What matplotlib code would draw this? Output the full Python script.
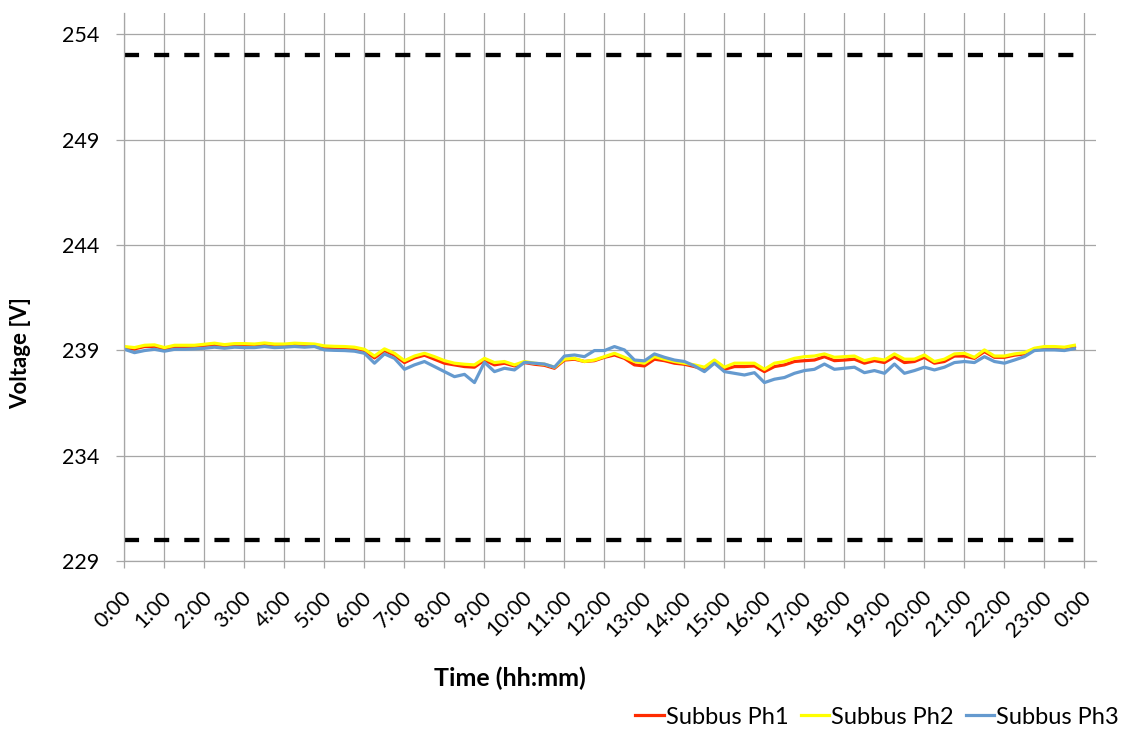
import matplotlib
matplotlib.use("Agg")
import matplotlib.pyplot as plt
import matplotlib.transforms as mtransforms
import numpy as np

plt.rcParams['font.family'] = ['Lato', 'DejaVu Sans']

# Quarter-hour samples over one day (hours since midnight)
sample_hours = np.arange(96) * 0.25

# Subbus phase voltages [V], one value per 15 minutes
ph1 = [239.11, 239.07, 239.18, 239.19, 239.07, 239.18, 239.18, 239.18,
       239.23, 239.27, 239.21, 239.26, 239.26, 239.24, 239.29, 239.24,
       239.24, 239.27, 239.26, 239.24, 239.15, 239.13, 239.11, 239.08,
       238.99, 238.64, 238.99, 238.77, 238.42, 238.64, 238.77, 238.58,
       238.39, 238.31, 238.23, 238.20, 238.54, 238.31, 238.39, 238.26,
       238.42, 238.34, 238.29, 238.15, 238.54, 238.58, 238.47, 238.51,
       238.67, 238.78, 238.62, 238.31, 238.26, 238.58, 238.51, 238.39,
       238.34, 238.23, 238.10, 238.47, 238.10, 238.23, 238.23, 238.26,
       237.99, 238.23, 238.31, 238.47, 238.51, 238.54, 238.70, 238.51,
       238.54, 238.58, 238.39, 238.51, 238.42, 238.70, 238.42, 238.47,
       238.67, 238.39, 238.47, 238.73, 238.73, 238.62, 238.94, 238.67,
       238.67, 238.77, 238.83, 239.07, 239.13, 239.13, 239.10, 239.18]

ph2 = [239.18, 239.13, 239.24, 239.26, 239.13, 239.24, 239.24, 239.24,
       239.29, 239.34, 239.27, 239.32, 239.32, 239.30, 239.35, 239.30,
       239.30, 239.34, 239.32, 239.30, 239.21, 239.19, 239.18, 239.15,
       239.05, 238.73, 239.07, 238.86, 238.51, 238.73, 238.86, 238.70,
       238.51, 238.39, 238.34, 238.31, 238.62, 238.42, 238.47, 238.31,
       238.47, 238.39, 238.34, 238.20, 238.58, 238.62, 238.47, 238.54,
       238.70, 238.86, 238.67, 238.47, 238.39, 238.70, 238.58, 238.47,
       238.39, 238.31, 238.20, 238.54, 238.20, 238.39, 238.39, 238.39,
       238.10, 238.39, 238.47, 238.62, 238.70, 238.73, 238.83, 238.67,
       238.70, 238.73, 238.51, 238.62, 238.54, 238.83, 238.58, 238.58,
       238.78, 238.47, 238.58, 238.83, 238.86, 238.67, 239.02, 238.73,
       238.73, 238.83, 238.89, 239.10, 239.18, 239.18, 239.15, 239.24]

ph3 = [239.05, 238.89, 238.99, 239.05, 238.96, 239.05, 239.05, 239.07,
       239.10, 239.15, 239.10, 239.15, 239.13, 239.13, 239.18, 239.13,
       239.15, 239.18, 239.15, 239.18, 239.02, 239.00, 238.99, 238.96,
       238.86, 238.39, 238.83, 238.62, 238.10, 238.31, 238.47, 238.23,
       237.99, 237.75, 237.86, 237.47, 238.43, 237.99, 238.15, 238.07,
       238.43, 238.39, 238.35, 238.20, 238.73, 238.78, 238.70, 238.99,
       238.99, 239.18, 239.02, 238.54, 238.50, 238.83, 238.67, 238.54,
       238.47, 238.26, 237.99, 238.39, 237.99, 237.91, 237.83, 237.94,
       237.47, 237.63, 237.71, 237.91, 238.04, 238.10, 238.35, 238.10,
       238.15, 238.20, 237.94, 238.04, 237.91, 238.35, 237.91, 238.04,
       238.20, 238.07, 238.20, 238.42, 238.47, 238.42, 238.70, 238.47,
       238.39, 238.54, 238.70, 238.99, 239.02, 239.02, 238.99, 239.08]

series_names = ["Subbus Ph1", "Subbus Ph2", "Subbus Ph3"]
series_colors = ["#FF2B00", "#FFFF00", "#659ACF"]

upper_limit = 253
lower_limit = 230
y_ticks = [229, 234, 239, 244, 249, 254]
hour_ticks = list(range(25))
hour_labels = [f"{h % 24}:00" for h in hour_ticks]

grid_color = "#A6A6A6"
fs = 15.5

fig = plt.figure(figsize=(11.24, 7.33), dpi=100)
ax = fig.add_axes([0.11076, 0.23465, 0.86433, 0.74721])

ax.set_xlim(0, 24.29)
ax.set_ylim(229, 255)
ax.set_xticks(hour_ticks)
ax.set_xticklabels(hour_labels, rotation=45, ha="right", va="center",
                   rotation_mode="anchor")
ax.set_yticks(y_ticks)
ax.grid(True, color=grid_color, linewidth=0.9)
ax.set_axisbelow(True)

for side in ("top", "right"):
    ax.spines[side].set_visible(False)
for side in ("left", "bottom"):
    ax.spines[side].set_color(grid_color)
    ax.spines[side].set_linewidth(0.9)

ax.tick_params(axis="y", length=6, width=0.9, color=grid_color, pad=12,
               labelsize=fs)
ax.tick_params(axis="x", length=5, width=0.9, color=grid_color, pad=19,
               labelsize=fs)

# nudge the slanted hour labels slightly to the right
shift = mtransforms.ScaledTranslation(4 / 100, 0, fig.dpi_scale_trans)
for lbl in ax.get_xticklabels():
    lbl.set_transform(lbl.get_transform() + shift)

# Supply voltage limits
for lim in (upper_limit, lower_limit):
    ax.plot([0, 24], [lim, lim], color="black", linewidth=3.1,
            dashes=(3.5, 3.5))

handles = []
for vals, name, col in zip((ph1, ph2, ph3), series_names, series_colors):
    line, = ax.plot(sample_hours, vals, color=col, linewidth=2.3, label=name)
    handles.append(line)

fig.legend(handles, series_names, loc="center right",
           bbox_to_anchor=(1119 / 1124, 1 - 717 / 733), ncol=3,
           frameon=False, fontsize=17, handlelength=1.2, handletextpad=0.1,
           columnspacing=0.5, borderaxespad=0, borderpad=0)

fig.text(21 / 1124, 1 - 353 / 733, "Voltage [V]", rotation=90,
         fontweight="bold", fontsize=16, ha="center", va="center")
fig.text(510 / 1124, 1 - 678 / 733, "Time (hh:mm)", fontweight="bold",
         fontsize=18, ha="center", va="center")

fig.savefig("out.png", dpi=100)
